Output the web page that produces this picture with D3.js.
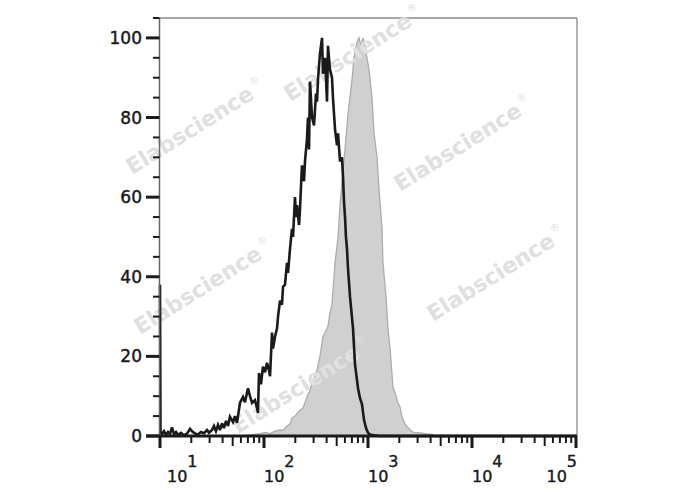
<!DOCTYPE html>
<html>
<head>
<meta charset="utf-8">
<script src="https://cdn.jsdelivr.net/npm/d3@7"></script>
<style>
html,body{margin:0;padding:0;background:#fff;}
svg{display:block;}
</style>
</head>
<body>
<svg id="chart" width="688" height="490"></svg>
<script>
// ---- data (x in log10 decades of fluorescence intensity, y in % of max) ----
const isotypeDecade = [1.000,1.005,1.019,1.038,1.058,1.077,1.096,1.115,1.135,1.154,1.173,1.202,1.231,1.260,1.288,1.308,1.337,1.365,1.394,1.423,1.452,1.471,1.500,1.519,1.538,1.558,1.577,1.596,1.615,1.635,1.654,1.673,1.702,1.721,1.740,1.769,1.798,1.817,1.846,1.865,1.885,1.913,1.933,1.942,1.952,1.971,1.990,2.010,2.029,2.048,2.058,2.077,2.087,2.106,2.125,2.135,2.154,2.173,2.183,2.202,2.221,2.231,2.250,2.269,2.279,2.298,2.308,2.317,2.337,2.346,2.365,2.385,2.394,2.413,2.423,2.433,2.442,2.462,2.481,2.500,2.510,2.519,2.538,2.558,2.567,2.587,2.606,2.615,2.635,2.654,2.663,2.683,2.702,2.712,2.731,2.750,2.760,2.769,2.779,2.788,2.798,2.808,2.827,2.856,2.875,2.904,2.923,2.942,2.962,2.981,3.000,3.019,3.058,3.115,5.000];
const isotypeValue  = [38,1,0.5,1.2,0.3,1,0.5,2.2,0.4,1,0.3,0.8,0.2,0.6,1.8,1.2,0.6,0.4,1,0.7,1.5,0.8,1.5,2.5,1.2,2.8,1.5,3.2,2,3.8,2.5,4.8,3.5,5,3.3,8.3,9.8,8.5,12,10,8.3,9,7,5.8,15.8,13,17.4,16,18.4,16.5,15,26,22,25,27,30,34,33,37.5,38,43.5,41,47,52,50,60,55,58,53,57,68,64,69,74.5,80,72,89,80,78,86,84,89.5,96,100,91,95,84,98,92,90,85,77,73,76,69,70,65,59,55,50,47,42,35,27,18,12,9.5,8,4,2,0.8,0.4,0.2,0,0];

const stainedDecade = [1.769,1.865,1.942,2.010,2.058,2.106,2.154,2.183,2.212,2.250,2.269,2.298,2.346,2.375,2.413,2.442,2.462,2.490,2.510,2.538,2.567,2.587,2.615,2.635,2.654,2.683,2.712,2.731,2.750,2.779,2.808,2.827,2.846,2.865,2.894,2.913,2.933,2.952,2.971,2.990,3.010,3.038,3.058,3.087,3.106,3.135,3.144,3.173,3.192,3.212,3.240,3.260,3.288,3.308,3.327,3.356,3.404,3.433,3.452,3.500,3.567,3.615,3.654];
const stainedValue  = [0,0.3,0.5,0.9,0.6,1.2,1.5,1.4,2.3,3,4.5,5,6.5,7,9.8,11.5,13.3,15,16.6,20,25,26,27.5,31,33,43.5,50,58,64,72,81,85,89.5,95,99,100,98,100,98,95,92,85,76,70,62,52,43.5,35,27,22,12.3,10.8,8.3,7.3,4.8,3,1.5,1,0.9,0.8,0.5,0.4,0];

const yTickValues = [0,20,40,60,80,100];
const yTickLabels = ["0","20","40","60","80","100"];
const xDecades = [1,2,3,4,5];
const xTickBase = "10";
const watermarkText = "Elabscience";
const watermarkMark = "\u00AE";
const watermarkAnchors = [[132,175],[290,102],[400,192],[140,335],[433,322],[238,434]];

// ---- layout ----
const svg = d3.select("#chart");
const pL = 159.5, pR = 577, pT = 18, pB = 436;
const ink = "#1a1a1a";

const x = d3.scaleLog().domain([10, 1e5]).range([160, 576]);
const y = d3.scaleLinear().domain([0, 105]).range([pB, pT]);

const stained = stainedDecade.map((d,i)=>({v:Math.pow(10,d), c:stainedValue[i]}));
const isotype = isotypeDecade.map((d,i)=>({v:Math.pow(10,d), c:isotypeValue[i]}));

// frame
svg.append("line").attr("x1",pL).attr("x2",pR).attr("y1",pT).attr("y2",pT)
  .attr("stroke","#8a8a8a").attr("stroke-width",1.3);
svg.append("line").attr("x1",pR).attr("x2",pR).attr("y1",pT).attr("y2",pB)
  .attr("stroke","#8a8a8a").attr("stroke-width",1.3);

// stained histogram (filled)
const area = d3.area().x(d=>x(d.v)).y0(y(0)).y1(d=>y(d.c)).curve(d3.curveLinear);
svg.append("path").datum(stained).attr("d",area)
  .attr("fill","#d0d0d0").attr("stroke","#acacac").attr("stroke-width",1.3);

// watermarks
const wm = svg.append("g");
watermarkAnchors.forEach(([ax,ay])=>{
  const t = wm.append("text")
    .attr("transform",`translate(${ax},${ay}) rotate(-32)`)
    .attr("font-family","'DejaVu Sans', sans-serif")
    .attr("font-weight","bold")
    .attr("font-size",22)
    .attr("fill","#e0e0e0");
  t.append("tspan").text(watermarkText);
  t.append("tspan").attr("font-size",10).attr("font-weight","normal").attr("dy",-12).attr("dx",3).text(watermarkMark);
});

// isotype histogram (line)
const line = d3.line().x(d=>x(d.v)).y(d=>y(d.c)).curve(d3.curveLinear);
svg.append("path").datum(isotype).attr("d",line)
  .attr("fill","none").attr("stroke",ink).attr("stroke-width",2.6)
  .attr("stroke-linejoin","miter").attr("stroke-miterlimit",3);

// y axis
svg.append("line").attr("x1",pL).attr("x2",pL).attr("y1",pT).attr("y2",pB)
  .attr("stroke","#666").attr("stroke-width",1.5);
const yMinor = d3.range(0,106,5).filter(v=>!yTickValues.includes(v));
svg.append("g").selectAll("line").data(yMinor).join("line")
  .attr("x1",153).attr("x2",pL).attr("y1",d=>y(d)).attr("y2",d=>y(d))
  .attr("stroke",ink).attr("stroke-width",2);
svg.append("g").selectAll("line").data(yTickValues).join("line")
  .attr("x1",146).attr("x2",pL).attr("y1",d=>y(d)).attr("y2",d=>y(d))
  .attr("stroke",ink).attr("stroke-width",3);
svg.append("g").selectAll("text").data(yTickValues).join("text")
  .attr("x",142).attr("y",d=>y(d)+6)
  .attr("text-anchor","end")
  .attr("font-family","'DejaVu Sans', sans-serif")
  .attr("font-size",17).attr("fill",ink)
  .attr("stroke",ink).attr("stroke-width",0.45)
  .text((d,i)=>yTickLabels[i]);

// x axis
svg.append("line").attr("x1",146).attr("x2",pR).attr("y1",pB).attr("y2",pB)
  .attr("stroke",ink).attr("stroke-width",3);
const xMinor = [];
xDecades.slice(0,-1).forEach(p=>{ for(let k=2;k<=9;k++) xMinor.push({v:k*Math.pow(10,p), k}); });
svg.append("g").selectAll("line").data(xMinor).join("line")
  .attr("x1",d=>x(d.v)).attr("x2",d=>x(d.v))
  .attr("y1",pB).attr("y2",d=>d.k===5?pB+10:pB+7)
  .attr("stroke",ink).attr("stroke-width",2);
svg.append("g").selectAll("line").data(xDecades).join("line")
  .attr("x1",d=>x(Math.pow(10,d))).attr("x2",d=>x(Math.pow(10,d)))
  .attr("y1",pB).attr("y2",pB+12)
  .attr("stroke",ink).attr("stroke-width",3);

const xl = svg.append("g");
xDecades.forEach(p=>{
  const t = xl.append("text")
    .attr("y",482)
    .attr("font-family","'DejaVu Sans', sans-serif")
    .attr("font-size",16).attr("fill",ink)
    .attr("stroke",ink).attr("stroke-width",0.4);
  t.append("tspan").text(xTickBase);
  t.append("tspan").attr("dy",-15).text(String(p));
  const w = t.node().getComputedTextLength() + 1;
  let sx = x(Math.pow(10,p));
  sx = Math.max(167, Math.min(sx, 578 - w));
  t.attr("x", sx);
});
</script>
</body>
</html>
